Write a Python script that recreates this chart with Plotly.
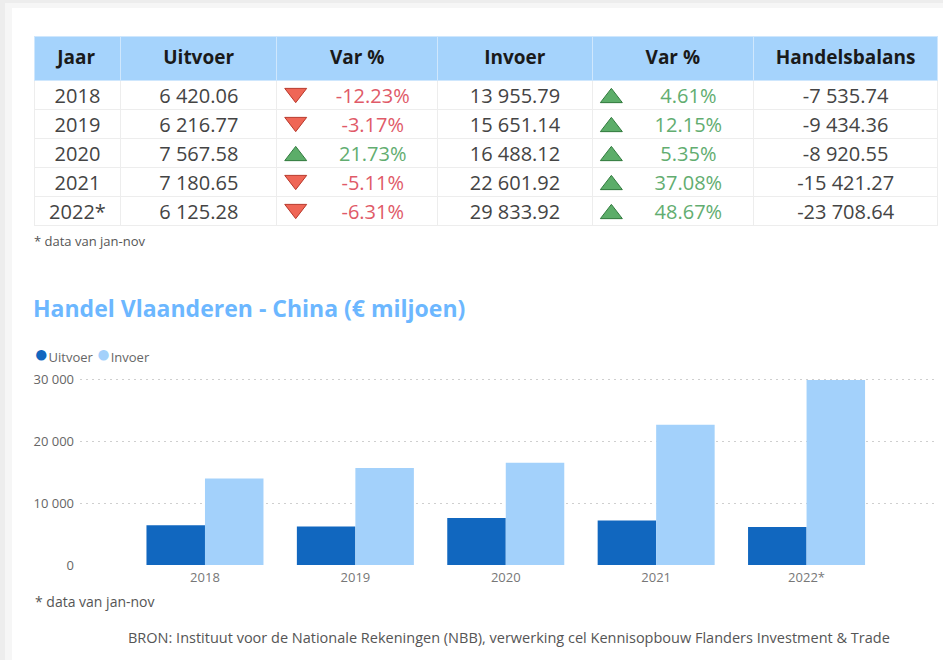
import plotly.graph_objects as go

# ---------------- data ----------------
years = ["2018", "2019", "2020", "2021", "2022*"]
uitvoer = [6420.06, 6216.77, 7567.58, 7180.65, 6125.28]
uitvoer_var = [-12.23, -3.17, 21.73, -5.11, -6.31]
invoer = [13955.79, 15651.14, 16488.12, 22601.92, 29833.92]
invoer_var = [4.61, 12.15, 5.35, 37.08, 48.67]
balans = [-7535.74, -9434.36, -8920.55, -15421.27, -23708.64]
headers = ["Jaar", "Uitvoer", "Var %", "Invoer", "Var %", "Handelsbalans"]
series_names = ["Uitvoer", "Invoer"]
y_ticks = [0, 10000, 20000, 30000]
title_text = "Handel Vlaanderen - China (€ miljoen)"
note_text = "* data van jan-nov"
source_text = ("BRON: Instituut voor de Nationale Rekeningen (NBB), verwerking cel "
               "Kennisopbouw Flanders Investment & Trade")

# ---------------- style ----------------
W, H = 943, 660
FONT = "Segoe UI, Open Sans, Noto Sans, sans-serif"
series_colors = ["#1167BF", "#A3D1FB"]
RED, RED_LINE = "#EF6656", "#B8382B"
GREEN, GREEN_LINE = "#5CAD69", "#2F7A3C"
RED_TXT, GREEN_TXT = "#E05A68", "#62AD70"
colwidths = [87, 156, 161, 155, 161, 185]
TBL_L, TBL_R, TBL_T = 34, 938, 36
HEAD_H, ROW_H = 44, 29
TRI_SIZE = 19


def fx(px):
    return px / W


def fy(py):
    return 1 - py / H


def fmt(v):
    return f"{v:,.2f}".replace(",", " ")


def fmt_pct(v):
    return "\u00a0" * 6 + f"{v:.2f}%"


def pct_colors(vals):
    return [RED_TXT if v < 0 else GREEN_TXT for v in vals]


base = "#444444"
cell_values = [
    years,
    [fmt(v) for v in uitvoer],
    [fmt_pct(v) for v in uitvoer_var],
    [fmt(v) for v in invoer],
    [fmt_pct(v) for v in invoer_var],
    [fmt(v) for v in balans],
]
cell_font_colors = [
    [base] * 5,
    [base] * 5,
    pct_colors(uitvoer_var),
    [base] * 5,
    pct_colors(invoer_var),
    [base] * 5,
]

fig = go.Figure()

table_bottom = TBL_T + HEAD_H + ROW_H * len(years)
fig.add_trace(go.Table(
    domain=dict(x=[fx(TBL_L), fx(TBL_R)], y=[fy(table_bottom + 4), fy(TBL_T)]),
    columnwidth=colwidths,
    header=dict(
        values=[f"<b>{h}</b>" for h in headers],
        fill_color="#A5D3FC",
        line=dict(color="#CFE7FD", width=1),
        font=dict(family=FONT, size=19, color="#1A1A1A"),
        align="center",
        height=HEAD_H,
    ),
    cells=dict(
        values=cell_values,
        fill_color="rgba(255,255,255,0)",
        line=dict(color="#EDEDED", width=1),
        font=dict(family=FONT, size=20, color=cell_font_colors),
        align="center",
        height=ROW_H,
    ),
))

# triangles in the Var % columns (visual centring of the triangle glyph)
col_starts = [sum(colwidths[:i]) for i in range(len(colwidths))]
tri_shift = (TRI_SIZE / 8) / ROW_H
for col_idx, vals in [(2, uitvoer_var), (4, invoer_var)]:
    fig.add_trace(go.Scatter(
        x=[col_starts[col_idx] + 19] * len(vals),
        y=[i - tri_shift if v < 0 else i + tri_shift for i, v in enumerate(vals)],
        mode="markers",
        marker=dict(
            symbol=["triangle-down" if v < 0 else "triangle-up" for v in vals],
            size=TRI_SIZE,
            color=[RED if v < 0 else GREEN for v in vals],
            line=dict(color=[RED_LINE if v < 0 else GREEN_LINE for v in vals], width=1),
        ),
        xaxis="x2", yaxis="y2",
        showlegend=False, hoverinfo="skip",
    ))

# bars
for name, vals, col in zip(series_names, [uitvoer, invoer], series_colors):
    fig.add_trace(go.Bar(
        x=years, y=vals, name=name, marker=dict(color=col, line=dict(width=0)),
        showlegend=False,
    ))

# layout
plot_top_val = 31000
px_per_unit = 62 / 10000
y0_px = 565
fig.update_layout(
    width=W, height=H,
    margin=dict(l=0, r=0, t=0, b=0, pad=0, autoexpand=False),
    paper_bgcolor="#EDEDED",
    plot_bgcolor="rgba(0,0,0,0)",
    showlegend=False,
    separators=". ",
    font=dict(family=FONT, color="#555555"),
    barmode="group",
    bargap=0.222,
    bargroupgap=0,
    xaxis=dict(
        domain=[fx(80), fx(938)],
        type="category",
        range=[-0.831, 4.874],
        showgrid=False, zeroline=False, showline=False,
        tickfont=dict(size=13, color="#777777"),
        ticks="",
        ticklabelstandoff=3,
        automargin=False,
    ),
    yaxis=dict(
        domain=[fy(y0_px), fy(y0_px - plot_top_val * px_per_unit)],
        range=[0, plot_top_val],
        tickvals=y_ticks,
        tickformat=",d",
        showgrid=True, gridcolor="#CFCFCF", griddash="2px,4px", gridwidth=1,
        zeroline=False, showline=False,
        tickfont=dict(size=13, color="#666666"),
        ticklabelstandoff=5,
        automargin=False,
    ),
    xaxis2=dict(domain=[fx(TBL_L), fx(TBL_R)], range=[0, sum(colwidths)],
                visible=False, fixedrange=True, automargin=False),
    yaxis2=dict(domain=[fy(table_bottom + 1), fy(TBL_T + HEAD_H + 1)],
                range=[len(years) - 0.5, -0.5],
                visible=False, fixedrange=True, automargin=False),
    shapes=[
        dict(type="rect", xref="paper", yref="paper", x0=fx(5), x1=1.0, y0=0, y1=fy(3),
             fillcolor="#F6F6F6", line=dict(width=0), layer="below"),
        dict(type="rect", xref="paper", yref="paper", x0=fx(12), x1=1.0, y0=0, y1=fy(8),
             fillcolor="white", line=dict(width=0), layer="below"),
    ],
)

legend_html = "".join(
    f"<span style='color:{c};font-size:24px'>●</span>{n} "
    for n, c in zip(series_names, series_colors)
)

annotations = [
    dict(text=note_text, x=fx(32), y=fy(241), xanchor="left", yanchor="middle",
         font=dict(size=13, color="#555555")),
    dict(text=f"<b>{title_text}</b>", x=fx(31), y=fy(308), xanchor="left", yanchor="middle",
         font=dict(size=23, color="#6CB7FF")),
    dict(text=legend_html, x=fx(32), y=fy(352), xanchor="left", yanchor="middle",
         font=dict(size=13, color="#666666")),
    dict(text=note_text, x=fx(33), y=fy(601), xanchor="left", yanchor="middle",
         font=dict(size=14, color="#555555")),
    dict(text=source_text, x=fx(509), y=fy(637), xanchor="center", yanchor="middle",
         font=dict(size=14.5, color="#555555")),
]
for a in annotations:
    a.update(xref="paper", yref="paper", showarrow=False)
fig.update_layout(annotations=annotations)

fig.write_html(
    "out.html",
    config={"displayModeBar": False},
    post_script=("document.body.style.margin='0';"
                 "document.body.style.overflow='hidden';"
                 "document.documentElement.style.overflow='hidden';"),
)
